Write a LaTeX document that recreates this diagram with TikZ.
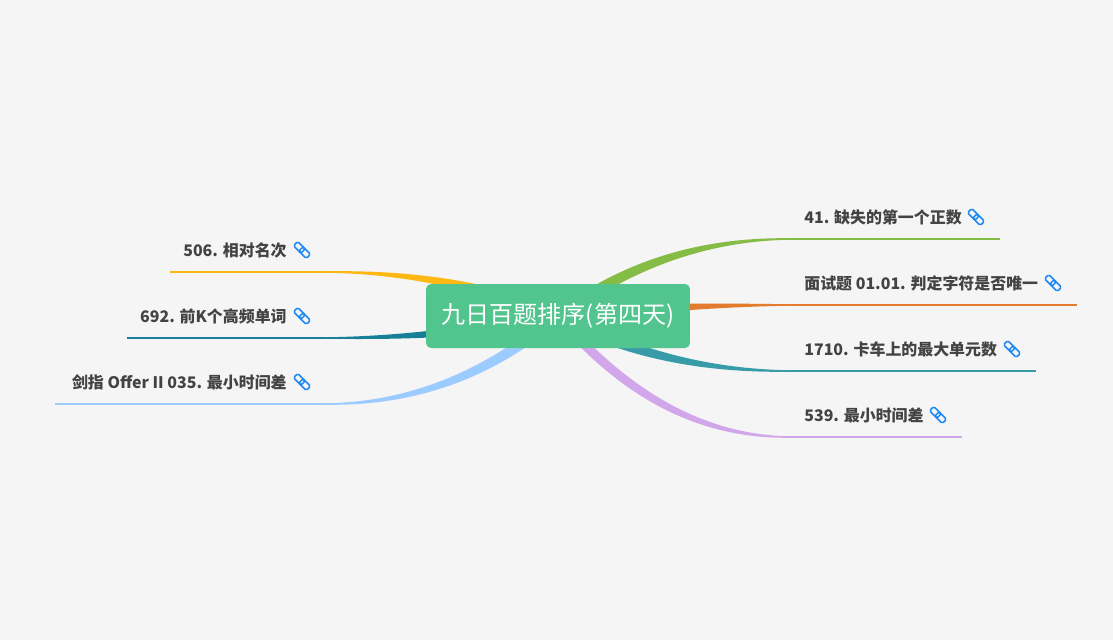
\documentclass[tikz,border=0pt]{standalone}
\usepackage{xcolor}
\usepackage{fontspec}
\setmainfont{Noto Sans CJK SC}
\definecolor{canvas}{HTML}{F5F5F5}
\definecolor{rootgreen}{HTML}{52C48E}
\definecolor{inktext}{HTML}{434343}
\definecolor{linkblue}{HTML}{1E88F5}
\definecolor{leafgreen}{HTML}{85BC45}
\definecolor{leaforange}{HTML}{E57B2E}
\definecolor{leafteal}{HTML}{379CA8}
\definecolor{leafpurple}{HTML}{D2A6EA}
\definecolor{leafyellow}{HTML}{FDB813}
\definecolor{leafblue}{HTML}{177F98}
\definecolor{leafsky}{HTML}{9CCCFF}
\usetikzlibrary{calc,backgrounds}
\newcommand{\branchfill}[2]{%
  \coordinate (ax) at ($(root.center)!.3!(#2)$);
  \coordinate (ay) at ($(root.center)!.67!(#2)$);
  \coordinate (bx) at ($(root.center)!.63!(#2)$);
  \coordinate (ca) at (ax |- ay);
  \coordinate (cb) at (bx |- #2);
  \fill[#1] ($(root.center)+(0,-7)$) .. controls ($(ca)+(0,-6)$) and ($(cb)+(0,-2)$) .. ($(#2)+(0,-0.75)$)
    -- ($(#2)+(0,0.75)$) .. controls ($(cb)+(0,2)$) and ($(ca)+(0,6)$) .. ($(root.center)+(0,7)$) -- cycle;}
\begin{document}
\begin{tikzpicture}[
  x=0.02cm,y=-0.02cm,
  rootbox/.style={fill=rootgreen,text=white,rounded corners=0.1cm,minimum width=5.28cm,minimum height=1.28cm,inner sep=0pt,font=\fontsize{13.7}{16}\selectfont},
  leafr/.style={anchor=west,inner sep=0pt,text=inktext,font=\fontsize{9.07}{11}\selectfont\bfseries},
  leafl/.style={anchor=east,inner sep=0pt,text=inktext,font=\fontsize{9.07}{11}\selectfont\bfseries},
  leafline/.style={line width=0.03cm},
  linkicon/.pic={
    \draw[linkblue,line width=0.03cm,rounded corners=0.03cm,rotate=-45] (-9,-3) rectangle (1.5,3);
    \draw[linkblue,line width=0.03cm,rounded corners=0.03cm,rotate=-45] (-1.5,-3) rectangle (9,3);
  }
]
  \useasboundingbox (0,0) rectangle (1113,640);

  % Root
  \node[rootbox] (root) at (558,316) {九日百题排序(第四天)};

  % Right side
  \node[leafr] (n41) at (804,217) {41. 缺失的第一个正数};
  \node[leafr] (n0101) at (804,283) {面试题 01.01. 判定字符是否唯一};
  \node[leafr] (n1710) at (804,349) {1710. 卡车上的最大单元数};
  \node[leafr] (n539) at (804,415) {539. 最小时间差};
  \pic at (976,217) {linkicon};
  \pic at (1053,283) {linkicon};
  \pic at (1012,349) {linkicon};
  \pic at (938,415) {linkicon};

  % Left side
  \node[leafl] (n506) at (287,250) {506. 相对名次};
  \node[leafl] (n692) at (287,316) {692. 前K个高频单词};
  \node[leafl] (n035) at (287,382) {剑指 Offer II 035. 最小时间差};
  \pic at (302,250) {linkicon};
  \pic at (302,316) {linkicon};
  \pic at (302,382) {linkicon};

  \coordinate (j41) at (790,239);
  \coordinate (e41) at (1000,239);
  \coordinate (j0101) at (790,305);
  \coordinate (e0101) at (1077,305);
  \coordinate (j1710) at (790,371);
  \coordinate (e1710) at (1036,371);
  \coordinate (j539) at (790,437);
  \coordinate (e539) at (962,437);
  \coordinate (j506) at (326,272);
  \coordinate (e506) at (170,272);
  \coordinate (j692) at (326,338);
  \coordinate (e692) at (127,338);
  \coordinate (j035) at (326,404);
  \coordinate (e035) at (55,404);

  \begin{scope}[on background layer]
    \fill[canvas] (0,0) rectangle (1113,640);
    \branchfill{leafgreen}{j41}
    \branchfill{leaforange}{j0101}
    \branchfill{leafteal}{j1710}
    \branchfill{leafpurple}{j539}
    \branchfill{leafyellow}{j506}
    \branchfill{leafblue}{j692}
    \branchfill{leafsky}{j035}
    \draw[leafline,leafgreen] (j41) -- (e41);
    \draw[leafline,leaforange] (j0101) -- (e0101);
    \draw[leafline,leafteal] (j1710) -- (e1710);
    \draw[leafline,leafpurple] (j539) -- (e539);
    \draw[leafline,leafyellow] (j506) -- (e506);
    \draw[leafline,leafblue] (j692) -- (e692);
    \draw[leafline,leafsky] (j035) -- (e035);
  \end{scope}
\end{tikzpicture}
\end{document}
